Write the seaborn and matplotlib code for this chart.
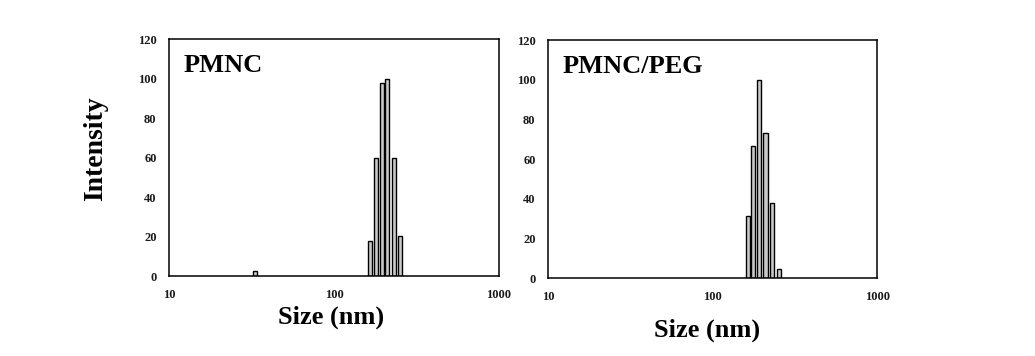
import numpy as np
import pandas as pd
import matplotlib
matplotlib.use("Agg")
import matplotlib.pyplot as plt
import seaborn as sns
from matplotlib.ticker import FixedLocator, FixedFormatter, NullLocator

# ---- data ----
pmnc_size = [33, 166, 180, 195, 210, 231, 250]
pmnc_intensity = [2.4, 17.5, 59.5, 97.5, 100, 59.5, 20.5]

peg_size = [164, 177, 192, 210, 230, 252]
peg_intensity = [31.5, 66.5, 100, 73, 38, 4.5]

panel_titles = ["PMNC", "PMNC/PEG"]
x_ticks = [10, 100, 1000]
x_tick_labels = ["10", "100", "1000"]
y_ticks = [0, 20, 40, 60, 80, 100, 120]

sns.set_style("white")
plt.rcParams["font.family"] = ["Liberation Serif", "DejaVu Serif"]
plt.rcParams["font.weight"] = "bold"
plt.rcParams["text.color"] = "black"

fig = plt.figure(figsize=(10.35, 3.56), dpi=100)
ax1 = fig.add_axes([0.1633, 0.2247, 0.3188, 0.6657])
ax2 = fig.add_axes([0.5295, 0.2191, 0.3179, 0.6685])

datasets = [(pmnc_size, pmnc_intensity), (peg_size, peg_intensity)]
for ax, (sz, it), title in zip([ax1, ax2], datasets, panel_titles):
    df = pd.DataFrame({"size": sz, "intensity": it})
    sns.barplot(data=df, x="size", y="intensity", native_scale=True,
                log_scale=(True, False), orient="x", width=0.76,
                color="#cacaca", saturation=1, edgecolor="black",
                linewidth=1.0, errorbar=None, ax=ax)
    ax.set_xscale("log")
    ax.set_xlim(10, 1000)
    ax.set_ylim(0, 120)
    ax.xaxis.set_major_locator(FixedLocator(x_ticks))
    ax.xaxis.set_major_formatter(FixedFormatter(x_tick_labels))
    ax.xaxis.set_minor_locator(NullLocator())
    ax.set_yticks(y_ticks)
    ax.set_xlabel("")
    ax.set_ylabel("")
    for s in ax.spines.values():
        s.set_visible(True)
        s.set_color("black")
        s.set_linewidth(1.1)
    ax.tick_params(axis="both", which="major", direction="out", length=3,
                   width=1, color="black", labelsize=9, pad=6)
    for lab in ax.get_xticklabels() + ax.get_yticklabels():
        lab.set_fontweight("bold")
        lab.set_color("#1a1a1a")
    ax.text(0.045, 0.935, title, transform=ax.transAxes, fontsize=19,
            fontweight="bold", va="top", ha="left", color="black")

fig.text(331 / 1035, 1 - 317 / 356, "Size (nm)", fontsize=19,
         fontweight="bold", ha="center", va="center", color="black")
fig.text(707 / 1035, 1 - 330 / 356, "Size (nm)", fontsize=19,
         fontweight="bold", ha="center", va="center", color="black")
fig.text(96 / 1035, 1 - 149 / 356, "Intensity", fontsize=20,
         fontweight="bold", ha="center", va="center", rotation=90,
         color="black")

fig.savefig("out.png", dpi=100, facecolor="white")
